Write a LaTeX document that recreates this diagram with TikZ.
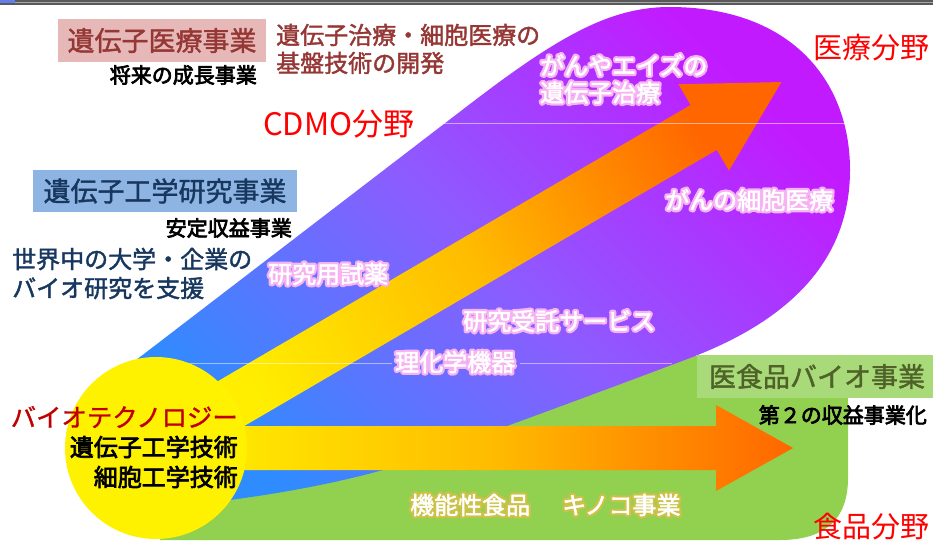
\documentclass[tikz,border=0pt]{standalone}
\usepackage{fontspec}
\setmainfont{Noto Sans CJK JP}
\usepackage{tikz}

\definecolor{medblue}{HTML}{2E8CFF}
\definecolor{medmid}{HTML}{8C5CFF}
\definecolor{medviolet}{HTML}{C21AFF}
\definecolor{foodgreen}{HTML}{92D050}
\definecolor{foodbox}{HTML}{A9DA7A}
\definecolor{foodtext}{HTML}{4F6228}
\definecolor{genebox}{HTML}{E6B9B8}
\definecolor{genetext}{HTML}{953735}
\definecolor{labbox}{HTML}{8DB4E2}
\definecolor{labtext}{HTML}{17375E}
\definecolor{biored}{HTML}{C00000}
\definecolor{arryellow}{HTML}{FFEE00}
\definecolor{arrmid}{HTML}{FFBB00}
\definecolor{arrorange}{HTML}{FF6600}

\newcommand\glow[2][0.97 0.7 0.95]{%
  \rlap{\special{pdf:literal 1 Tr 5 w 1 j 1 J #1 RG}#2}%
  \special{pdf:literal 2 Tr 0.5 w 1 1 1 RG}#2\special{pdf:literal 0 Tr}}

\tikzset{
  heavy/.style={execute at begin node={\special{pdf:literal 2 Tr #1 w}},
    execute at end node={\special{pdf:literal 0 Tr}}},
  tagbox/.style={inner sep=0pt, heavy=0.4, font=\fontsize{27pt}{30pt}\selectfont},
  note/.style={inner sep=0pt, heavy=0.7, font=\fontsize{21pt}{24pt}\selectfont},
  txt/.style={inner sep=0pt, font=\fontsize{24pt}{28pt}\selectfont},
  shine/.style={txt, text=white},
  field/.style={inner sep=0pt, text=red, font=\fontsize{29pt}{32pt}\selectfont},
  sepline/.style={white, opacity=.5, line width=.8pt}
}

\begin{document}
\begin{tikzpicture}[x=1pt,y=-1pt]
    \useasboundingbox (0,0) rectangle (933,542);
    \fill[black!65] (0,0) rectangle (933,5);
    \fill[black!35] (0,2) rectangle (933,3);
    \fill[labbox!70!blue] (0,0) rectangle (15,3);

    \fill[foodgreen] (170,420) -- (640,356) -- (810,356) .. controls (838,356) and (848,372) .. (848,400)
        -- (848,478) .. controls (848,522) and (822,540) .. (780,540) -- (160,540) -- cycle;
    \shade[left color=medblue, right color=medviolet, middle color=medmid, shading angle=135]
        (110,380) -- (470,104) .. controls (560,35) and (610,8) .. (667,7)
        .. controls (790,6) and (850,80) .. (850,170) .. controls (850,260) and (790,320) .. (690,358)
        .. controls (600,392) and (470,440) .. (390,468) .. controls (320,488) and (250,498) .. (190,505) -- cycle;

    \begin{scope}[shift={(190,427.6)}, rotate=30.3]
        \shade[left color=arryellow, right color=arrorange, middle color=arrmid, shading angle=120]
            (0,-26) -- (595,-26) -- (595,-50) -- (685,0) -- (595,50) -- (595,26) -- (0,26) -- cycle;
    \end{scope}
    \shade[left color=arryellow, right color=arrorange, middle color=arrmid]
        (195,426) -- (716,426) -- (716,405) -- (793,448) -- (716,491) -- (716,470) -- (195,470) -- cycle;

    \draw[sepline] (443,123) -- (846,123);
    \draw[sepline] (187,363) -- (392,363) (520,363) -- (672,363);

    \node[circle, fill=yellow, minimum size=182pt, inner sep=0pt] (core) at (156,448) {};

    \node[tagbox, fill=genebox, text=genetext, minimum width=208pt, minimum height=43pt] (genebiz) at (162,40.5) {遺伝子医療事業};
    \node[note, anchor=east] (genefuture) at (257,75) {将来の成長事業};
    \node[txt, heavy=0.4, text=genetext, anchor=west, align=left] (genetech) at (276,49) {遺伝子治療・細胞医療の\\基盤技術の開発};
    \node[field, anchor=west, font=\fontsize{31pt}{34pt}\selectfont] (cdmo) at (263,124) {CDMO分野};
    \node[field, anchor=west] (medfield) at (813,48) {医療分野};
    \node[shine, anchor=west, align=left, font=\fontsize{24pt}{27pt}\selectfont] (aidsgene) at (540,79) {\glow{がんやエイズの}\\\glow{遺伝子治療}};
    \node[shine, anchor=west] (cancercell) at (665,200) {\glow{がんの細胞医療}};

    \node[tagbox, fill=labbox, text=labtext, minimum width=264pt, minimum height=42pt] (labbiz) at (165,191) {遺伝子工学研究事業};
    \node[note, anchor=east] (labstable) at (292,228) {安定収益事業};
    \node[txt, heavy=0.4, text=labtext, anchor=west, align=left, font=\fontsize{24pt}{29pt}\selectfont] (labsupport) at (12,273.5) {世界中の大学・企業の\\バイオ研究を支援};
    \node[shine, anchor=west] (reagent) at (268,274) {\glow{研究用試薬}};
    \node[shine, anchor=west] (service) at (463,321) {\glow{研究受託サービス}};
    \node[shine, anchor=west] (instrument) at (395,362) {\glow{理化学機器}};

    \node[txt, heavy=0.3, text=biored, anchor=east, font=\fontsize{25.4pt}{28pt}\selectfont] (biotech) at (238,417) {バイオテクノロジー};
    \node[txt, heavy=0.7, anchor=east, align=right, font=\fontsize{24pt}{30pt}\selectfont] (coretech) at (238,462) {遺伝子工学技術\\細胞工学技術};

    \node[tagbox, fill=foodbox, text=foodtext, minimum width=240pt, minimum height=43pt] (foodbiz) at (817,376.5) {医食品バイオ事業};
    \node[note, anchor=east] (foodsecond) at (927,415) {第２の収益事業化};
    \node[shine, anchor=west] (funcfood) at (410,505) {\glow[0.8 0.76 0.28]{機能性食品}};
    \node[shine, anchor=west] (mushroom) at (562,505) {\glow[0.8 0.76 0.28]{キノコ事業}};
    \node[field, anchor=west] (foodfield) at (813,527) {食品分野};
\end{tikzpicture}
\end{document}
